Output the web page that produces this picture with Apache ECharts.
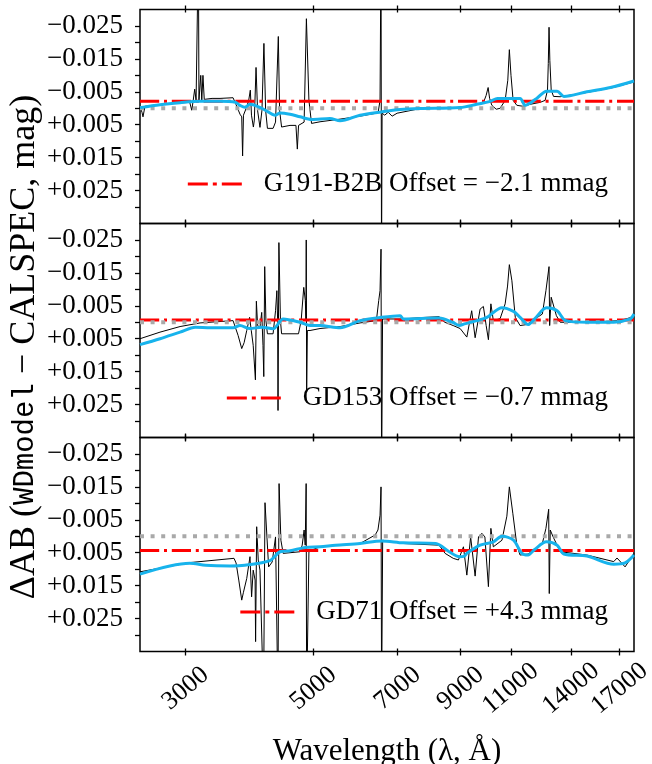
<!DOCTYPE html>
<html>
<head>
<meta charset="utf-8">
<script src="https://cdn.jsdelivr.net/npm/echarts@6/dist/echarts.min.js"></script>
<style>
  html, body { margin: 0; padding: 0; background: #fff; }
  #chart { width: 652px; height: 764px; }
</style>
</head>
<body>
<div id="chart"></div>
<script>
// Photometric residuals of three CALSPEC white dwarfs, WDmodel minus CALSPEC, in mag.

const stars = ['G191-B2B', 'GD153', 'GD71'];
const offsetsMmag = [-2.1, -0.7, 4.3];

const wavelengthTicks = [3000, 5000, 7000, 9000, 11000, 14000, 17000];
const residualLabelTicks = [-0.025, -0.015, -0.005, 0.005, 0.015, 0.025];
const residualTicks = [-0.025, -0.02, -0.015, -0.01, -0.005, 0, 0.005, 0.01, 0.015, 0.02, 0.025, 0.03];

// [wavelength (Å), ΔAB (mag)] — full-resolution residual
const residG191 = [
  [2500,-0.0004],[2520,0.0012],[2530,0.0026],[2550,-0.0006],[2708,-0.0011],[2868,-0.0015],[3050,-0.0018],
  [3074,0.0006],[3089,-0.0018],[3111,-0.0058],[3128,-0.0024],[3150,-0.0024],[3157,-0.05],[3164,-0.0024],
  [3180,-0.0024],[3187,-0.010],[3200,-0.0024],[3215,-0.010],[3232,-0.0027],[3334,-0.003],[3442,-0.003],
  [3626,-0.0032],[3668,-0.0012],[3728,0.0018],[3754,0.0026],[3767,0.0145],[3780,0.0021],[3830,-0.0004],
  [3860,-0.0024],[3885,-0.0055],[3903,0.0021],[3933,0.0057],[3948,0.0036],[3975,-0.0124],[3999,0.0006],
  [4038,0.0058],[4070,0.0006],[4102,-0.0197],[4130,0.0006],[4160,0.0061],[4255,0.0061],[4297,0.0042],
  [4345,-0.0218],[4367,0.0006],[4402,0.0057],[4553,0.0052],[4662,0.0052],[4688,0.0124],[4711,0.0052],
  [4817,0.0042],[4861,-0.0272],[4910,-0.0024],[4962,0.0046],[5133,0.0041],[5561,0.0033],[6024,0.0024],
  [6473,0.0014],[6524,-0.0024],[6550,-0.05],[6563,0.05],[6578,0.0015],[6648,0.0021],[6740,0.0012],
  [6847,0.0024],[6985,0.0015],[7656,0.0001],[8293,0],[8985,-0.0002],[9616,-0.0012],[9850,-0.0015],
  [9969,-0.0039],[10049,-0.0063],[10109,-0.003],[10198,-0.0009],[10380,0.0003],[10542,0],[10756,-0.0024],
  [10870,-0.0085],[10938,-0.0178],[11010,-0.010],[11104,-0.0024],[11270,-0.0009],[11557,-0.0006],
  [11885,-0.0012],[12374,-0.0018],[12620,-0.0024],[12740,-0.0055],[12780,-0.0136],[12818,-0.0246],
  [12860,-0.0145],[12930,-0.0055],[13050,-0.0036],[13404,-0.0035],[14911,-0.0048],[16562,-0.0063],
  [18000,-0.008]
];
// smoothed residual
const smoothG191 = [
  [2500,-0.0002],[2708,-0.0011],[2934,-0.0017],[3178,-0.0021],[3442,-0.0021],[3660,-0.0018],[3728,-0.0009],
  [3800,-0.0003],[3880,-0.0012],[4070,0],[4297,0.0021],[4375,0.0014],[4553,0.0018],[4739,0.0026],
  [4962,0.0034],[5340,0.0031],[5561,0.0038],[6024,0.0021],[6563,0.0011],[7069,0.0004],[7656,0.0001],
  [8985,-0.0002],[9600,-0.0012],[10130,-0.0021],[10430,-0.003],[11000,-0.003],[11417,-0.003],
  [11650,-0.0009],[12200,-0.003],[12690,-0.0052],[13240,-0.0052],[13600,-0.0036],[14911,-0.005],
  [16380,-0.0063],[18000,-0.0083]
];

const residGD153 = [
  [2500,0.005],[2708,0.003],[2934,0.0013],[3178,0.0002],[3626,-0.0005],[3655,0],[3700,0.004],[3754,0.008],
  [3790,0.0062],[3830,0.0025],[3874,-0.0015],[3900,0.0025],[3930,0.007],[3965,0.0175],[3980,-0.0064],
  [4000,0.001],[4038,0.0015],[4066,-0.003],[4087,0.007],[4100,0.0165],[4115,-0.0169],[4135,-0.0005],
  [4160,0.0035],[4255,0.0035],[4297,-0.0035],[4320,-0.0096],[4333,-0.0005],[4340,0.0268],[4355,-0.0242],
  [4382,-0.0005],[4402,0.0035],[4710,0.0035],[4760,-0.0005],[4810,-0.0106],[4840,-0.0066],[4852,-0.0005],
  [4858,-0.025],[4866,0.0207],[4880,0.0025],[4932,0.0025],[5133,0.0019],[5561,0.0013],[6024,0.0002],
  [6430,-0.0005],[6490,-0.0066],[6524,-0.0096],[6550,-0.0222],[6565,0.05],[6590,-0.001],[7160,-0.001],
  [7656,-0.0014],[8260,-0.0017],[8450,0],[8740,0.001],[8985,0.0019],[9229,0.0045],[9410,-0.0035],
  [9540,0.0047],[9732,-0.004],[9860,-0.0048],[9970,0.001],[10060,0.0053],[10160,-0.0056],[10260,-0.0005],
  [10542,-0.0011],[10756,-0.0056],[10860,-0.011],[10938,-0.0175],[11050,-0.0126],[11200,-0.0015],
  [11417,0.001],[11720,0.0007],[12480,-0.0025],[12660,-0.0096],[12818,-0.0169],[12850,0.001],
  [12930,-0.0076],[13200,-0.002],[13404,0],[14911,0],[17030,-0.0005],[17730,-0.0014],[18000,-0.0025]
];
const smoothGD153 = [
  [2500,0.0068],[2708,0.005],[2934,0.003],[3120,0.0015],[3310,0.0017],[3626,0.0017],[3728,0.001],
  [3880,0.0019],[4070,0.0015],[4255,0.002],[4430,-0.001],[4739,0],[4932,0.001],[5133,0.001],[5561,0.0017],
  [6024,-0.0005],[6563,-0.0015],[7069,-0.002],[7160,-0.001],[8260,-0.0013],[8720,0],[8960,0.001],
  [9140,0.0005],[9600,-0.0005],[10000,-0.0015],[10620,-0.0044],[11120,-0.0033],[11417,-0.0015],
  [11790,0.0007],[12100,-0.001],[12690,-0.0044],[13240,-0.0035],[13700,-0.0005],[14911,0],[16600,0],
  [17730,-0.001],[18000,-0.0025]
];

const residGD71 = [
  [2500,0.0108],[3050,0.008],[3640,0.0067],[3670,0.0081],[3710,0.0133],[3754,0.0194],[3780,0.017],
  [3830,0.0128],[3880,0.0062],[3905,0.0184],[3930,0.0103],[3960,0.0133],[3968,0.032],[3985,-0.0029],
  [4010,0.0072],[4038,0.0103],[4096,0.05],[4120,-0.0102],[4180,0.0093],[4240,0.0078],[4297,0.0002],
  [4338,0.05],[4358,-0.016],[4390,0.0012],[4430,0.0052],[4739,0.0047],[4780,0.0027],[4817,-0.0019],
  [4838,0.0027],[4856,-0.016],[4866,0.05],[4910,0.0048],[4962,0.0042],[5133,0.0032],[5460,0.0027],
  [6024,0.0022],[6400,-0.0004],[6470,-0.0019],[6524,-0.0064],[6550,-0.015],[6565,0.05],[6593,0.0012],
  [7160,0.0022],[8260,0.0027],[8461,0.0052],[8740,0.0067],[8924,0.0072],[9105,0.0032],[9229,0.0118],
  [9370,0.0002],[9540,0.0121],[9670,0.0002],[9800,-0.0009],[9920,0.0002],[10060,0.0153],[10160,-0.0024],
  [10260,0.0032],[10620,0.0012],[10830,-0.0061],[10938,-0.015],[11090,-0.007],[11270,0.0027],
  [11417,0.0057],[11790,0.0054],[12480,0.0022],[12660,-0.0024],[12800,-0.0082],[12830,0.0174],
  [12880,-0.0019],[13030,0.0002],[13404,0.0047],[14911,0.0057],[16600,0.0077],[16820,0.0066],
  [17370,0.0093],[18000,0.0052]
];
const smoothGD71 = [
  [2500,0.0115],[3050,0.0082],[3250,0.0088],[3580,0.009],[3800,0.0088],[4203,0.0074],[4375,0.0047],
  [4553,0.0044],[4840,0.0034],[5133,0.0032],[5460,0.0027],[6024,0.0022],[6563,0.0014],[7160,0.002],
  [8150,0.0022],[8600,0.0047],[8960,0.0062],[9140,0.006],[9229,0.0052],[9732,0.0027],[10260,0.0017],
  [10620,0],[11120,0.0012],[11500,0.0052],[11790,0.0057],[12100,0.004],[12690,0.0017],[13240,0.0027],
  [13600,0.0054],[14911,0.006],[16600,0.0085],[17370,0.0081],[18000,0.0057]
];

const residuals = [residG191, residGD153, residGD71];
const smoothed = [smoothG191, smoothGD153, smoothGD71];

const X_MIN = 2500, X_MAX = 18000;
const Y_MIN = -0.03, Y_MAX = 0.035;
const SERIF = "'Liberation Serif', 'Times New Roman', serif";
const MONO = "'Liberation Mono', 'DejaVu Sans Mono', monospace";
const GRID_TOPS = [9.5, 223.5, 437.5];
const GRID_HEIGHT = 214;

const signed = (v, digits) => (v < 0 ? '\u2212' : '+') + Math.abs(v).toFixed(digits);
const legendName = i => stars[i] + ' Offset = ' + signed(offsetsMmag[i], 1) + ' mmag';

// Frame ticks on a decade scale (log10 of wavelength); the data itself uses the log axis.
function tickAxisFor(i, position, inside, showLabels) {
  return {
    type: 'value', gridIndex: i, min: Math.log10(X_MIN), max: Math.log10(X_MAX), position: position,
    axisLine: { show: false },
    splitLine: { show: false },
    minorTick: { show: false },
    axisTick: {
      show: true, inside: inside, length: inside ? 3 : 4,
      customValues: wavelengthTicks.map(Math.log10),
      lineStyle: { color: '#000', width: 1.3 }
    },
    axisLabel: {
      show: showLabels, customValues: wavelengthTicks.map(Math.log10), rotate: 40, align: 'center',
      verticalAlign: 'middle', margin: 37, fontFamily: SERIF, fontSize: 26, color: '#000',
      formatter: v => String(Math.round(Math.pow(10, v)))
    }
  };
}

const grids = [], xAxes = [], yAxes = [], series = [], legends = [];
for (let i = 0; i < 3; i++) {
  grids.push({
    left: 140, right: 18, top: GRID_TOPS[i], height: GRID_HEIGHT, outerBoundsMode: 'none',
    show: true, borderColor: '#000', borderWidth: 1.5, backgroundColor: 'rgba(0,0,0,0)'
  });
  xAxes.push({
    type: 'log', logBase: 10, gridIndex: i, min: X_MIN, max: X_MAX, show: false,
    splitLine: { show: false }
  });
  xAxes.push(tickAxisFor(i, 'bottom', false, i === 2));
  xAxes.push(tickAxisFor(i, 'bottom', true, false));
  xAxes.push(tickAxisFor(i, 'top', false, false));
  xAxes.push(tickAxisFor(i, 'top', true, false));
  yAxes.push({
    type: 'value', gridIndex: i, min: Y_MIN, max: Y_MAX, inverse: true, position: 'left',
    axisLine: { show: false },
    splitLine: { show: false },
    axisTick: { show: true, length: 5, customValues: residualTicks, lineStyle: { color: '#000', width: 1.3 } },
    axisLabel: {
      customValues: residualLabelTicks, margin: 17, fontFamily: SERIF, fontSize: 27, color: '#000',
      formatter: v => signed(v, 3)
    }
  });

  const xi = 5 * i;
  const offset = offsetsMmag[i] / 1000;
  series.push({
    type: 'line', name: stars[i] + ' residual', xAxisIndex: xi, yAxisIndex: i, z: 2,
    data: residuals[i], symbol: 'none', clip: true,
    lineStyle: { color: '#000', width: 1 }
  });
  series.push({
    type: 'line', name: legendName(i), xAxisIndex: xi, yAxisIndex: i, z: 3,
    data: [[X_MIN, offset], [X_MAX, offset]], symbol: 'none', color: '#ff0000',
    lineStyle: { color: '#ff0000', width: 3, type: [19.2, 4.8, 3, 4.8] }
  });
  series.push({
    type: 'line', name: stars[i] + ' zero', xAxisIndex: xi, yAxisIndex: i, z: 4,
    data: [[X_MIN, 0], [X_MAX, 0]], symbol: 'none',
    lineStyle: { color: '#a9a9a9', width: 4, type: [4, 6.6] }
  });
  series.push({
    type: 'line', name: stars[i] + ' smoothed', xAxisIndex: xi, yAxisIndex: i, z: 5,
    data: smoothed[i], symbol: 'none', smooth: 0.3, clip: true,
    lineStyle: { color: '#17b3ec', width: 3 }
  });

  legends.push({
    data: [{ name: legendName(i), icon: 'path://M0,0H20V3H0Z M25,0H29V3H25Z M34,0H54V3H34Z' }],
    right: 44, top: GRID_TOPS[i] + 161, padding: 0, itemWidth: 54, itemHeight: 3,
    selectedMode: false,
    textStyle: { fontFamily: SERIF, fontSize: 27, color: '#000', padding: [0, 0, 0, 17] }
  });
}

const chart = echarts.init(document.getElementById('chart'), null, { renderer: 'canvas' });
chart.setOption({
  animation: false,
  backgroundColor: '#fff',
  grid: grids,
  xAxis: xAxes,
  yAxis: yAxes,
  legend: legends,
  series: series,
  graphic: [
    {
      type: 'text', x: 387, y: 752, z: 10,
      style: { text: 'Wavelength (\u03bb, \u00c5)', fontFamily: SERIF, fontSize: 31, fill: '#000', align: 'center', verticalAlign: 'middle' }
    },
    {
      type: 'text', x: 25, y: 347, rotation: Math.PI / 2, z: 10,
      style: {
        text: '{s|\u0394AB (}{m|WDmodel}{s| \u2212 CALSPEC, mag)}',
        align: 'center', verticalAlign: 'middle', fill: '#000',
        rich: {
          s: { fontFamily: SERIF, fontSize: 36, fill: '#000' },
          m: { fontFamily: MONO, fontSize: 29, fill: '#000' }
        }
      }
    }
  ]
});
</script>
</body>
</html>
